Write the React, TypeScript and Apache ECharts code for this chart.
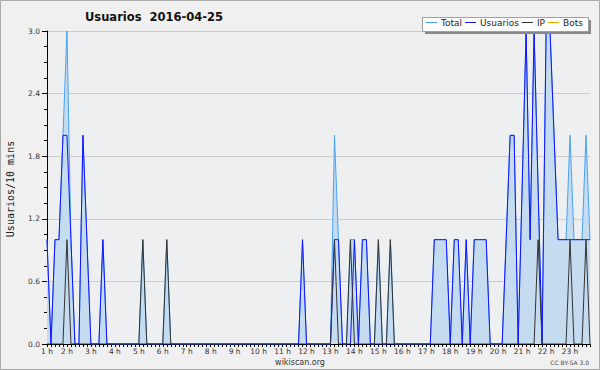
import React, { useEffect, useRef } from "react";
import * as echarts from "echarts";

// 10-minute slots from 1:10 to 23:50
const START_MINUTE = 70;
const STEP_MINUTES = 10;
const SLOT_COUNT = 137;
const categories: string[] = Array.from({ length: SLOT_COUNT }, (_, i) => {
  const m = START_MINUTE + i * STEP_MINUTES;
  const h = Math.floor(m / 60);
  const mm = m % 60;
  return `${h}:${mm < 10 ? "0" + mm : mm}`;
});

const seriesNames = ["Total", "Usuarios", "IP", "Bots"];

// rows: 1:10-1:50, then one row per hour (2h ... 23h)
const total: number[] = [
  1, 0, 1, 1, 2,
  3, 1, 0, 0, 2, 1,
  0, 0, 0, 1, 0, 0,
  0, 0, 0, 0, 0, 0,
  0, 1, 0, 0, 0, 0,
  0, 1, 0, 0, 0, 0,
  0, 0, 0, 0, 0, 0,
  0, 0, 0, 0, 0, 0,
  0, 0, 0, 0, 0, 0,
  0, 0, 0, 0, 0, 0,
  0, 0, 0, 0, 0, 1,
  0, 0, 0, 0, 0, 0,
  0, 2, 1, 0, 0, 1,
  1, 0, 1, 1, 0, 0,
  1, 0, 0, 1, 0, 0,
  0, 0, 0, 0, 0, 0,
  0, 0, 1, 1, 1, 1,
  0, 1, 1, 0, 1, 0,
  1, 1, 1, 1, 0, 0,
  0, 0, 1, 2, 2, 0,
  1.5, 3, 1, 3, 1.5, 0,
  3, 3, 2, 1, 1, 1,
  2, 1, 1, 1, 2, 1,
];

const usuarios: number[] = [
  1, 0, 1, 1, 2,
  2, 1, 0, 0, 2, 1,
  0, 0, 0, 1, 0, 0,
  0, 0, 0, 0, 0, 0,
  0, 0, 0, 0, 0, 0,
  0, 0, 0, 0, 0, 0,
  0, 0, 0, 0, 0, 0,
  0, 0, 0, 0, 0, 0,
  0, 0, 0, 0, 0, 0,
  0, 0, 0, 0, 0, 0,
  0, 0, 0, 0, 0, 1,
  0, 0, 0, 0, 0, 0,
  0, 1, 1, 0, 0, 0,
  1, 0, 1, 1, 0, 0,
  0, 0, 0, 0, 0, 0,
  0, 0, 0, 0, 0, 0,
  0, 0, 1, 1, 1, 1,
  0, 1, 1, 0, 1, 0,
  1, 1, 1, 1, 0, 0,
  0, 0, 1, 2, 2, 0,
  1.5, 3, 1, 3, 1.5, 0,
  3, 3, 2, 1, 1, 1,
  1, 1, 1, 1, 1, 1,
];

const ip: number[] = [
  0, 0, 0, 0, 0,
  1, 0, 0, 0, 0, 0,
  0, 0, 0, 0, 0, 0,
  0, 0, 0, 0, 0, 0,
  0, 1, 0, 0, 0, 0,
  0, 1, 0, 0, 0, 0,
  0, 0, 0, 0, 0, 0,
  0, 0, 0, 0, 0, 0,
  0, 0, 0, 0, 0, 0,
  0, 0, 0, 0, 0, 0,
  0, 0, 0, 0, 0, 0,
  0, 0, 0, 0, 0, 0,
  0, 1, 0, 0, 0, 1,
  0, 0, 0, 0, 0, 0,
  1, 0, 0, 1, 0, 0,
  0, 0, 0, 0, 0, 0,
  0, 0, 0, 0, 0, 0,
  0, 0, 0, 0, 0, 0,
  0, 0, 0, 0, 0, 0,
  0, 0, 0, 0, 0, 0,
  0, 0, 0, 0, 1, 0,
  0, 0, 0, 0, 0, 0,
  1, 0, 0, 0, 1, 0,
];

const bots: number[] = [
  0, 0, 0, 0, 0,
  0, 0, 0, 0, 0, 0,
  0, 0, 0, 0, 0, 0,
  0, 0, 0, 0, 0, 0,
  0, 0, 0, 0, 0, 0,
  0, 0, 0, 0, 0, 0,
  0, 0, 0, 0, 0, 0,
  0, 0, 0, 0, 0, 0,
  0, 0, 0, 0, 0, 0,
  0, 0, 0, 0, 0, 0,
  0, 0, 0, 0, 0, 0,
  0, 0, 0, 0, 0, 0,
  0, 0, 0, 0, 0, 0,
  0, 0, 0, 0, 0, 0,
  0, 0, 0, 0, 0, 0,
  0, 0, 0, 0, 0, 0,
  0, 0, 0, 0, 0, 0,
  0, 0, 0, 0, 0, 0,
  0, 0, 0, 0, 0, 0,
  0, 0, 0, 0, 0, 0,
  0, 0, 0, 0, 0, 0,
  0, 0, 0, 0, 0, 0,
  0, 0, 0, 0, 0, 0,
];

const Y_MIN = 0;
const Y_MAX = 3;
const Y_INTERVAL = 0.6;

const TITLE = "Usuarios  2016-04-25";
const Y_NAME = "Usuarios/10 mins";
const FOOTER = "wikiscan.org";
const LICENSE = "CC BY-SA 3.0";

const COLORS = {
  total: "#45a2f2",
  totalFill: "#c5dcf0",
  usuarios: "#1414ff",
  ip: "#333333",
  bots: "#ffa500",
};

const FONT = "DejaVu Sans";

export default function App() {
  const ref = useRef<HTMLDivElement>(null);

  useEffect(() => {
    if (!ref.current) return;
    document.body.style.margin = "0";
    document.body.style.padding = "0";
    const chart = echarts.init(ref.current, null, { renderer: "svg" });

    const hourLabel = (value: string, index: number) => {
      if (index === 0) return "1 h";
      const [h] = value.split(":");
      return `${parseInt(h, 10)} h`;
    };

    const lineSeries = (name: string, data: number[], color: string, extra: any = {}) => ({
      name,
      type: "line",
      data,
      showSymbol: false,
      symbol: "none",
      lineStyle: { color, width: 1 },
      itemStyle: { color },
      emphasis: { disabled: true },
      ...extra,
    });

    chart.setOption({
      animation: false,
      backgroundColor: "#f0f0f0",
      textStyle: { fontFamily: FONT },
      tooltip: { show: false },
      legend: {
        data: seriesNames,
        left: 426,
        top: 18,
        padding: 0,
        itemWidth: 11,
        itemHeight: 1,
        itemGap: 3,
        icon: "rect",
        z: 20,
        textStyle: { fontFamily: FONT, fontSize: 9, color: "#222", padding: [0, 0, 0, -1] },
        selectedMode: false,
      },
      grid: {
        left: 47,
        right: 10,
        top: 31,
        bottom: 26,
        show: true,
        backgroundColor: "#eeeff1",
        borderWidth: 0,
      },
      xAxis: {
        type: "category",
        data: categories,
        boundaryGap: false,
        axisLine: { lineStyle: { color: "#000", width: 1 } },
        axisTick: { show: true, interval: 0, length: 3, lineStyle: { color: "#000" } },
        axisLabel: {
          interval: (index: number, value: string) => index === 0 || value.endsWith(":00"),
          formatter: hourLabel,
          fontFamily: FONT,
          fontSize: 7.5,
          color: "#333",
          margin: 3,
          hideOverlap: false,
        },
        splitLine: { show: false },
      },
      yAxis: {
        type: "value",
        min: Y_MIN,
        max: Y_MAX,
        interval: Y_INTERVAL,
        axisLine: { show: true, lineStyle: { color: "#000", width: 1 } },
        axisTick: { show: true, length: 5, lineStyle: { color: "#000" } },
        minorTick: { show: true, splitNumber: 4, length: 3, lineStyle: { color: "#000" } },
        axisLabel: {
          formatter: (v: number) => v.toFixed(1),
          fontFamily: FONT,
          fontSize: 7.5,
          color: "#333",
          margin: 7,
        },
        splitLine: { show: true, lineStyle: { color: "#cccccc", width: 1 } },
      },
      series: [
        // Bots stays at zero: in the reference it is hidden under the IP line and the axis
        lineSeries("Bots", bots, COLORS.bots, {
          z: 1,
          silent: true,
          lineStyle: { color: "rgba(0,0,0,0)", width: 0 },
        }),
        lineSeries("Total", total, COLORS.total, {
          areaStyle: { color: COLORS.totalFill, opacity: 1 },
        }),
        lineSeries("Usuarios", usuarios, COLORS.usuarios),
        lineSeries("IP", ip, COLORS.ip),
      ],
      graphic: [
        {
          type: "rect",
          silent: true,
          z: 0,
          shape: { x: 0.5, y: 0.5, width: 599, height: 369 },
          style: { fill: "none", stroke: "#aaaaaa", lineWidth: 1 },
        },
        {
          type: "text",
          silent: true,
          z: 5,
          x: 85,
          y: 17,
          style: {
            text: TITLE,
            fontFamily: FONT,
            fontSize: 11.5,
            fontWeight: "bold",
            fill: "#111",
            textAlign: "left",
            textVerticalAlign: "middle",
          },
        },
        {
          type: "rect",
          silent: true,
          z: 10,
          shape: { x: 425, y: 20, width: 166, height: 14 },
          style: { fill: "#888888" },
        },
        {
          type: "rect",
          silent: true,
          z: 11,
          shape: { x: 422.5, y: 17.5, width: 166, height: 14 },
          style: { fill: "#ffffff", stroke: "#a0a0a0", lineWidth: 1 },
        },
        {
          type: "text",
          silent: true,
          z: 5,
          x: 10,
          y: 189,
          rotation: Math.PI / 2,
          style: {
            text: Y_NAME,
            fontFamily: "DejaVu Sans Mono",
            fontSize: 10,
            fill: "#222",
            textAlign: "center",
            textVerticalAlign: "middle",
          },
        },
        {
          type: "text",
          silent: true,
          z: 5,
          x: 300,
          y: 362,
          style: {
            text: FOOTER,
            fontFamily: FONT,
            fontSize: 8,
            fill: "#333",
            textAlign: "center",
            textVerticalAlign: "middle",
          },
        },
        {
          type: "text",
          silent: true,
          z: 5,
          x: 589,
          y: 362,
          style: {
            text: LICENSE,
            fontFamily: FONT,
            fontSize: 6,
            fill: "#444",
            textAlign: "right",
            textVerticalAlign: "middle",
          },
        },
      ],
    });

    return () => chart.dispose();
  }, []);

  return <div ref={ref} style={{ width: 600, height: 370 }} />;
}
